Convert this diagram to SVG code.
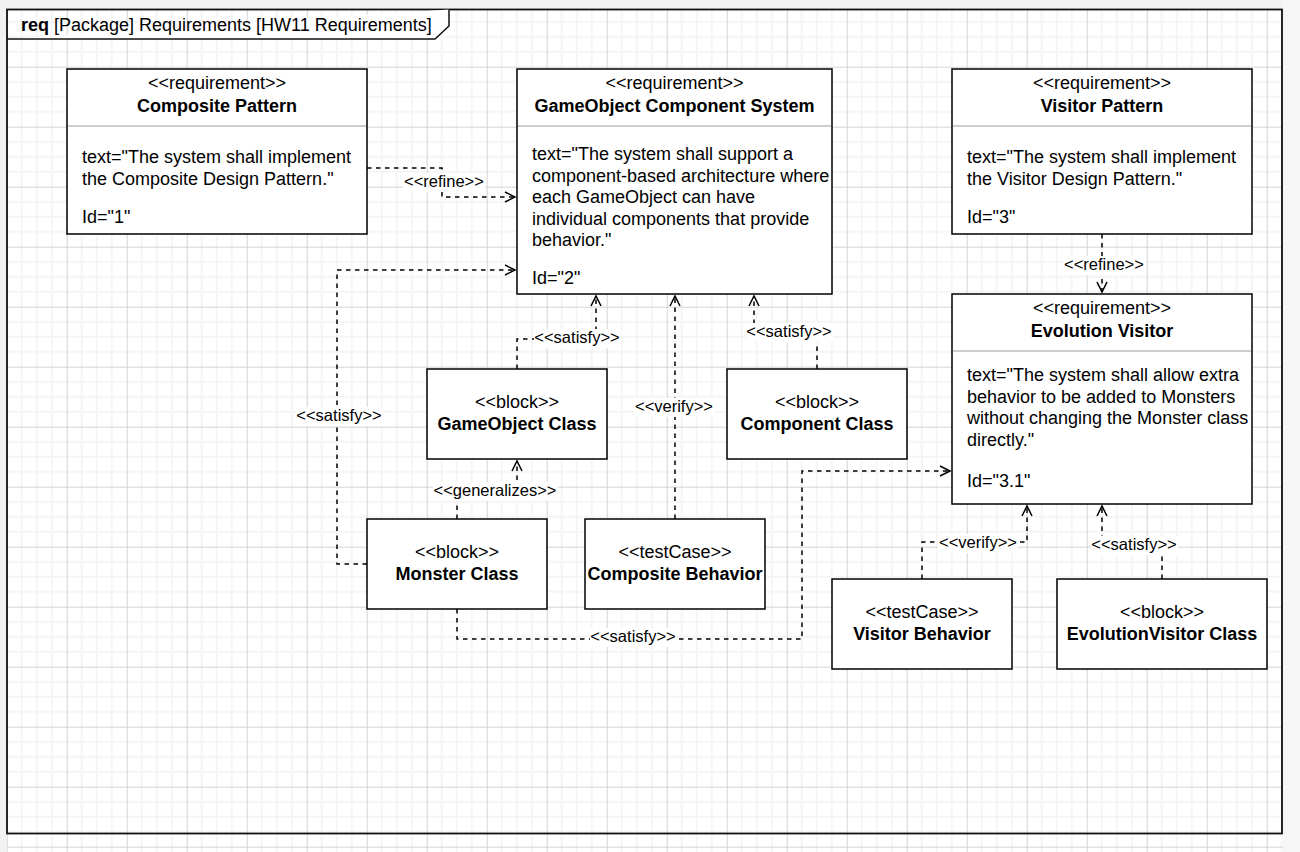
<svg xmlns="http://www.w3.org/2000/svg" width="1300" height="852" viewBox="0 0 1300 852">
<style>
.box{fill:#fff;stroke:#000;stroke-width:1.5}
.div{stroke:#bdbdbd;stroke-width:1.5}
.t{font-family:"Liberation Sans",Arial,sans-serif;font-size:18px;fill:#000}
.b{font-weight:bold}
.c{text-anchor:middle}
.edge{fill:none;stroke:#000;stroke-width:1.5;stroke-dasharray:4.5 4.5}
.lbl{font-family:"Liberation Sans",Arial,sans-serif;font-size:16.5px;fill:#000;text-anchor:middle}
.lb{fill:#fff;stroke:none}
</style>
<defs>
<pattern id="grid" patternUnits="userSpaceOnUse" x="6.7" y="6.7" width="60" height="60">
<path d="M15 0V60M30 0V60M45 0V60M0 15H60M0 30H60M0 45H60" stroke="#f5f5f5" stroke-width="2" fill="none"/>
<path d="M0.5 0V60M0 0.5H60" stroke="#d4d4d4" stroke-width="1" fill="none"/>
</pattern>
<marker id="open" viewBox="0 0 12 12" refX="10" refY="6" markerWidth="12" markerHeight="12" markerUnits="userSpaceOnUse" orient="auto" overflow="visible">
<path d="M0,1 L10,6 L0,11" fill="none" stroke="#000" stroke-width="1.5"/>
</marker>
</defs>
<rect x="0" y="0" width="1300" height="852" fill="#f2f2f2"/>
<rect x="7" y="9" width="1276" height="843" fill="#fff"/>
<rect x="7" y="9" width="1276" height="843" fill="url(#grid)"/>
<rect x="1283" y="0" width="17" height="852" fill="#f6f6f6"/>

<g id="frame">
<rect x="7" y="9.5" width="1275" height="824" fill="none" stroke="#111" stroke-width="1.8"/>
<path d="M7 39H435L449 26V9.5" fill="#fff" stroke="#111" stroke-width="1.5"/>
<text class="t" x="21" y="31"><tspan class="b">req</tspan> [Package] Requirements [HW11 Requirements]</text>
</g>

<g id="connectors">
<path class="edge" d="M367 168H442V197H515" marker-end="url(#open)"/>
<path class="edge" d="M367 564H337V270H515" marker-end="url(#open)"/>
<path class="edge" d="M517 369V339H596V296" marker-end="url(#open)"/>
<path class="edge" d="M817 369V332H754V296" marker-end="url(#open)"/>
<path class="edge" d="M457 519V489H517V461" marker-end="url(#open)"/>
<path class="edge" d="M675 519V296" marker-end="url(#open)"/>
<path class="edge" d="M457 609V639H802V471H950" marker-end="url(#open)"/>
<path class="edge" d="M1102 234V292" marker-end="url(#open)"/>
<path class="edge" d="M922 579V542H1027V506" marker-end="url(#open)"/>
<path class="edge" d="M1162 579V545H1102V506" marker-end="url(#open)"/>

<rect class="lb" x="403" y="173" width="82" height="19"/>
<text class="lbl" x="444" y="187">&lt;&lt;refine&gt;&gt;</text>
<rect class="lb" x="296" y="407" width="87" height="19"/>
<text class="lbl" x="339" y="421">&lt;&lt;satisfy&gt;&gt;</text>
<rect class="lb" x="534" y="329" width="87" height="19"/>
<text class="lbl" x="577" y="343">&lt;&lt;satisfy&gt;&gt;</text>
<rect class="lb" x="746" y="323" width="87" height="19"/>
<text class="lbl" x="789" y="337">&lt;&lt;satisfy&gt;&gt;</text>
<rect class="lb" x="433" y="482" width="125" height="19"/>
<text class="lbl" x="495" y="496">&lt;&lt;generalizes&gt;&gt;</text>
<rect class="lb" x="634" y="398" width="80" height="19"/>
<text class="lbl" x="674" y="412">&lt;&lt;verify&gt;&gt;</text>
<rect class="lb" x="590" y="628" width="87" height="19"/>
<text class="lbl" x="633" y="642">&lt;&lt;satisfy&gt;&gt;</text>
<rect class="lb" x="1064" y="256" width="82" height="19"/>
<text class="lbl" x="1104" y="270">&lt;&lt;refine&gt;&gt;</text>
<rect class="lb" x="938" y="534" width="80" height="19"/>
<text class="lbl" x="978" y="548">&lt;&lt;verify&gt;&gt;</text>
<rect class="lb" x="1091" y="536" width="87" height="19"/>
<text class="lbl" x="1134" y="550">&lt;&lt;satisfy&gt;&gt;</text>
</g>

<g id="composite-pattern">
<rect class="box" x="67" y="69" width="300" height="165"/>
<line class="div" x1="68" y1="126" x2="366" y2="126"/>
<text class="t c" x="217" y="89">&lt;&lt;requirement&gt;&gt;</text>
<text class="t b c" x="217" y="112">Composite Pattern</text>
<text class="t" x="82" y="163">text="The system shall implement</text>
<text class="t" x="82" y="184.5">the Composite Design Pattern."</text>
<text class="t" x="82" y="223">Id="1"</text>
</g>

<g id="gameobject-component-system">
<rect class="box" x="517" y="69" width="315" height="225"/>
<line class="div" x1="518" y1="126" x2="831" y2="126"/>
<text class="t c" x="674.5" y="89">&lt;&lt;requirement&gt;&gt;</text>
<text class="t b c" x="674.5" y="112">GameObject Component System</text>
<text class="t" x="532" y="160">text="The system shall support a</text>
<text class="t" x="532" y="181.5">component-based architecture where</text>
<text class="t" x="532" y="203">each GameObject can have</text>
<text class="t" x="532" y="224.5">individual components that provide</text>
<text class="t" x="532" y="246">behavior."</text>
<text class="t" x="532" y="284">Id="2"</text>
</g>

<g id="visitor-pattern">
<rect class="box" x="952" y="69" width="300" height="165"/>
<line class="div" x1="953" y1="126" x2="1251" y2="126"/>
<text class="t c" x="1102" y="89">&lt;&lt;requirement&gt;&gt;</text>
<text class="t b c" x="1102" y="112">Visitor Pattern</text>
<text class="t" x="967" y="163">text="The system shall implement</text>
<text class="t" x="967" y="184.5">the Visitor Design Pattern."</text>
<text class="t" x="967" y="223">Id="3"</text>
</g>

<g id="evolution-visitor">
<rect class="box" x="952" y="294" width="300" height="210"/>
<line class="div" x1="953" y1="351" x2="1251" y2="351"/>
<text class="t c" x="1102" y="314">&lt;&lt;requirement&gt;&gt;</text>
<text class="t b c" x="1102" y="337">Evolution Visitor</text>
<text class="t" x="967" y="381">text="The system shall allow extra</text>
<text class="t" x="967" y="402.5">behavior to be added to Monsters</text>
<text class="t" x="967" y="424">without changing the Monster class</text>
<text class="t" x="967" y="445.5">directly."</text>
<text class="t" x="967" y="486.5">Id="3.1"</text>
</g>

<g id="gameobject-class">
<rect class="box" x="427" y="369" width="180" height="90"/>
<text class="t c" x="517" y="408">&lt;&lt;block&gt;&gt;</text>
<text class="t b c" x="517" y="430">GameObject Class</text>
</g>

<g id="component-class">
<rect class="box" x="727" y="369" width="180" height="90"/>
<text class="t c" x="817" y="408">&lt;&lt;block&gt;&gt;</text>
<text class="t b c" x="817" y="430">Component Class</text>
</g>

<g id="monster-class">
<rect class="box" x="367" y="519" width="180" height="90"/>
<text class="t c" x="457" y="558">&lt;&lt;block&gt;&gt;</text>
<text class="t b c" x="457" y="580">Monster Class</text>
</g>

<g id="composite-behavior">
<rect class="box" x="585" y="519" width="180" height="90"/>
<text class="t c" x="675" y="558">&lt;&lt;testCase&gt;&gt;</text>
<text class="t b c" x="675" y="580">Composite Behavior</text>
</g>

<g id="visitor-behavior">
<rect class="box" x="832" y="579" width="180" height="90"/>
<text class="t c" x="922" y="618">&lt;&lt;testCase&gt;&gt;</text>
<text class="t b c" x="922" y="640">Visitor Behavior</text>
</g>

<g id="evolutionvisitor-class">
<rect class="box" x="1057" y="579" width="210" height="90"/>
<text class="t c" x="1162" y="618">&lt;&lt;block&gt;&gt;</text>
<text class="t b c" x="1162" y="640">EvolutionVisitor Class</text>
</g>
</svg>
